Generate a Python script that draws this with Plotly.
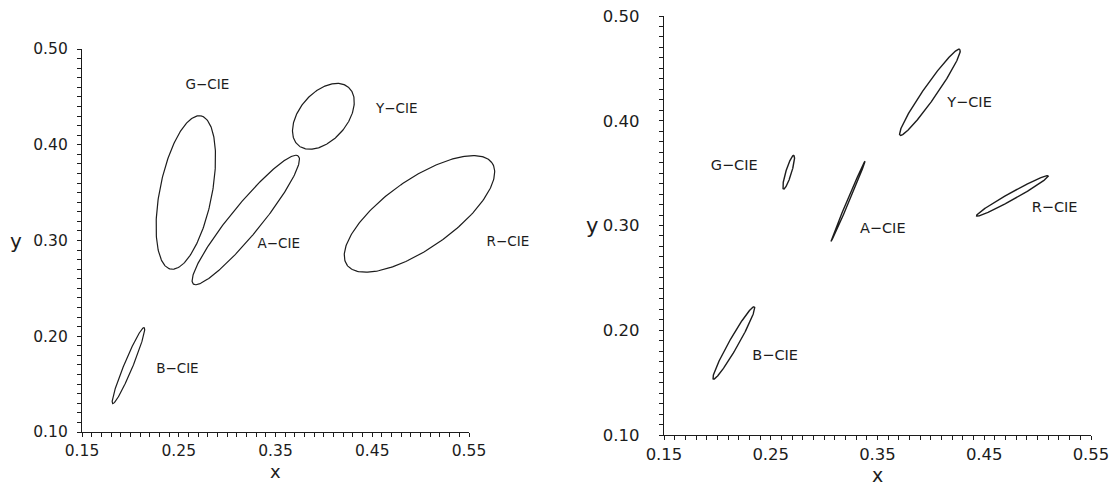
import numpy as np
import plotly.graph_objects as go

# Chromaticity discrimination ellipses, two panels (CIE x–y)
names = ["G−CIE", "A−CIE", "Y−CIE", "R−CIE", "B−CIE"]

# Left panel: centre, semi-axes, orientation (degrees)
left_cx = [0.2573, 0.3193, 0.3995, 0.4988, 0.1980]
left_cy = [0.3501, 0.3214, 0.4297, 0.3278, 0.1694]
left_a = [0.0815, 0.0861, 0.0399, 0.0920, 0.0430]
left_b = [0.0270, 0.0155, 0.0247, 0.0359, 0.0045]
left_deg = [79.0, 51.0, 49.7, 35.5, 67.7]
left_label_x = [0.2796, 0.3534, 0.4754, 0.5902, 0.2486]
left_label_y = [0.4614, 0.2955, 0.4363, 0.2974, 0.1650]

# Right panel
right_cx = [0.2668, 0.3225, 0.3991, 0.4764, 0.2154]
right_cy = [0.3509, 0.3234, 0.4272, 0.3283, 0.1879]
right_a = [0.0169, 0.0412, 0.0497, 0.0387, 0.0395]
right_b = [0.0027, 0.0010, 0.0062, 0.0034, 0.0044]
right_deg = [73.3, 67.4, 55.7, 29.6, 60.9]
right_label_x = [0.2157, 0.3549, 0.4362, 0.5159, 0.2541]
right_label_y = [0.3569, 0.2962, 0.4164, 0.3162, 0.1754]

# Axis ticks: a tick every 0.01, labels every 0.1
x_ticks = [round(0.15 + 0.01 * i, 2) for i in range(41)]
y_ticks = [round(0.10 + 0.01 * i, 2) for i in range(41)]
x_labels = ["0.15", "0.25", "0.35", "0.45", "0.55"]
y_labels = ["0.10", "0.20", "0.30", "0.40", "0.50"]

FONT = "DejaVu Sans"
INK = "#1c1c1c"
W, H = 1112, 485

# pixel frame of each panel: x0, x1 (for 0.15..0.55), y_bottom, y_top (for 0.10..0.50)
frames = {
    "left": (82, 469, 432, 49),
    "right": (664, 1091, 435, 16),
}


def outline(cx, cy, a, b, deg, n=240):
    t = np.linspace(0, 2 * np.pi, n)
    th = np.radians(deg)
    x = cx + a * np.cos(th) * np.cos(t) - b * np.sin(th) * np.sin(t)
    y = cy + a * np.sin(th) * np.cos(t) + b * np.cos(th) * np.sin(t)
    return x, y


def tick_text(vals, labels):
    return [f"{v:.2f}" if f"{v:.2f}" in labels else "" for v in vals]


fig = go.Figure()

panels = [
    ("left", "x3", "y", left_cx, left_cy, left_a, left_b, left_deg,
     left_label_x, left_label_y, 1.2, 13.5),
    ("right", "x4", "y2", right_cx, right_cy, right_a, right_b, right_deg,
     right_label_x, right_label_y, 1.4, 14.5),
]

# Outlines and their labels sit on a wider, hidden x axis with the same
# scale, so they may run past the end of the drawn axis
for key, xwide, ya, cx, cy, aa, bb, dd, lx, ly, lw, fs in panels:
    for i in range(len(names)):
        ex, ey = outline(cx[i], cy[i], aa[i], bb[i], dd[i])
        fig.add_trace(go.Scatter(
            x=ex, y=ey, mode="lines", xaxis=xwide, yaxis=ya,
            line=dict(color=INK, width=lw), hoverinfo="skip", showlegend=False,
        ))
    fig.add_trace(go.Scatter(
        x=lx, y=ly, mode="text", text=names, xaxis=xwide, yaxis=ya,
        textposition="middle center", cliponaxis=False,
        textfont=dict(family=FONT, size=fs, color=INK),
        hoverinfo="skip", showlegend=False,
    ))


def xaxis_style(key, anchor, fs):
    x0, x1, yb, yt = frames[key]
    return dict(
        domain=[x0 / W, x1 / W], anchor=anchor, range=[0.15, 0.55],
        tickmode="array", tickvals=x_ticks, ticktext=tick_text(x_ticks, x_labels),
        ticks="outside", ticklen=4, tickwidth=1, tickcolor=INK,
        showline=True, linecolor=INK, linewidth=1.3, mirror=False,
        showgrid=False, zeroline=False, fixedrange=True, automargin=False,
        tickfont=dict(family=FONT, size=fs, color=INK),
    )


def wide_x(key, anchor):
    x0, x1, yb, yt = frames[key]
    ext_l = min(60, x0)
    ext_r = min(60, W - x1)
    scale = 0.4 / (x1 - x0)
    return dict(
        domain=[(x0 - ext_l) / W, (x1 + ext_r) / W], anchor=anchor,
        range=[0.15 - ext_l * scale, 0.55 + ext_r * scale],
        visible=False, showgrid=False, zeroline=False,
        fixedrange=True, automargin=False,
    )


def yaxis_style(key, anchor, fs, standoff):
    x0, x1, yb, yt = frames[key]
    return dict(
        domain=[(H - yb) / H, (H - yt) / H], anchor=anchor, range=[0.10, 0.50],
        tickmode="array", tickvals=y_ticks, ticktext=tick_text(y_ticks, y_labels),
        ticks="outside", ticklen=4, tickwidth=1, tickcolor=INK,
        showline=True, linecolor=INK, linewidth=1.3, mirror=False,
        showgrid=False, zeroline=False, fixedrange=True, automargin=False,
        ticklabelstandoff=standoff,
        tickfont=dict(family=FONT, size=fs, color=INK),
    )


fig.update_layout(
    template="none",
    width=W, height=H,
    margin=dict(l=0, r=0, t=0, b=0, pad=0),
    paper_bgcolor="white", plot_bgcolor="rgba(0,0,0,0)",
    showlegend=False,
    xaxis=xaxis_style("left", "y", 15.5),
    yaxis=yaxis_style("left", "x", 15.5, 6),
    xaxis2=xaxis_style("right", "y2", 16.5),
    yaxis2=yaxis_style("right", "x2", 16.5, 16),
    xaxis3=wide_x("left", "y"),
    xaxis4=wide_x("right", "y2"),
    annotations=[
        dict(text="y", xref="paper", yref="y", x=16 / W, y=0.30, xanchor="center",
             yanchor="middle", showarrow=False, font=dict(family=FONT, size=20, color=INK)),
        dict(text="x", xref="x", yref="paper", x=0.35, y=(H - 471) / H, xanchor="center",
             yanchor="middle", showarrow=False, font=dict(family=FONT, size=18, color=INK)),
        dict(text="y", xref="paper", yref="y2", x=592 / W, y=0.30, xanchor="center",
             yanchor="middle", showarrow=False, font=dict(family=FONT, size=21, color=INK)),
        dict(text="x", xref="x2", yref="paper", x=0.35, y=(H - 475) / H, xanchor="center",
             yanchor="middle", showarrow=False, font=dict(family=FONT, size=19, color=INK)),
    ],
)

fig.write_html("out.html")
